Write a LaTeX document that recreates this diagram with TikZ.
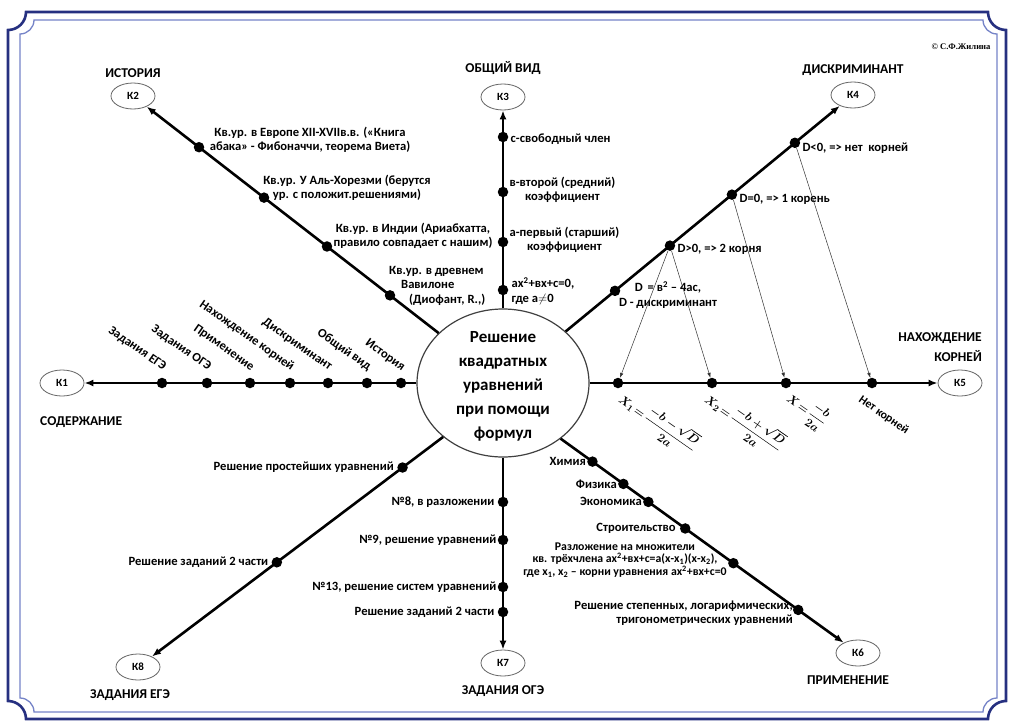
\documentclass[tikz,border=0pt]{standalone}
\usepackage{amsmath}
\usepackage{fontspec}
\setmainfont{Carlito}
\newfontfamily\copyfont{Liberation Serif}
\usetikzlibrary{shapes.geometric,arrows.meta,positioning,calc}

\definecolor{framenavy}{RGB}{38,48,128}
\definecolor{framelight}{RGB}{118,132,200}

\tikzset{
  kbox/.style={ellipse, draw=black!60, line width=0.8pt, minimum width=44pt, minimum height=26pt,
    inner sep=0pt, font=\fontsize{11}{11}\selectfont\bfseries},
  bullet/.style={circle, fill=black, inner sep=0pt, minimum size=10.5pt},
  lbl/.style={font=\fontsize{12.6}{14.5}\selectfont\bfseries, inner sep=1pt},
  smalllbl/.style={font=\fontsize{11.8}{12.5}\selectfont\bfseries, inner sep=1pt},
  head/.style={font=\fontsize{13.5}{20}\selectfont\bfseries, inner sep=0pt},
  branch/.style={line width=2.6pt, -{Latex[length=9pt,width=7pt]}},
  hint/.style={line width=0.5pt, draw=black!80, -{Latex[length=5pt,width=3.5pt]}},
  rootf/.style={font=\fontsize{13}{15}\selectfont\boldmath, rotate=-35, anchor=west, inner sep=0pt},
}

\begin{document}
\begin{tikzpicture}[x=1pt, y=-1pt]
    \fill[white] (0,0) rectangle (1009,723);
    \useasboundingbox (0,0) rectangle (1009,723);
    \draw[framenavy, line width=2.6pt] (26,12) -- (988,12) arc[start angle=180, end angle=270, radius=18pt]
      -- (1006,701) arc[start angle=90, end angle=180, radius=18pt]
      -- (26,719) arc[start angle=0, end angle=90, radius=18pt]
      -- (8,30) arc[start angle=-90, end angle=0, radius=18pt] -- cycle;
    \draw[framelight, line width=1.3pt] (34,20) -- (983,20) arc[start angle=180, end angle=270, radius=14pt]
      -- (997,698) arc[start angle=90, end angle=180, radius=14pt]
      -- (34,712) arc[start angle=0, end angle=90, radius=14pt]
      -- (20,34) arc[start angle=-90, end angle=0, radius=14pt] -- cycle;

    \node[font={\copyfont\fontsize{8.6}{10}\selectfont\bfseries}, anchor=east] (copyr) at (994,47) {© С.Ф.Жилина};

    \node[ellipse, draw=black!75, line width=1.2pt, minimum width=172pt, minimum height=148pt] (ctr) at (503,383) {};
    \node[font=\fontsize{17}{24}\selectfont\bfseries, align=center] (ctrtext) at (503,386)
      {Решение\\квадратных\\уравнений\\при помощи\\формул};

    \node[kbox] (K1) at (62,383) {К1};
    \node[kbox] (K2) at (133,96) {К2};
    \node[kbox] (K3) at (503,97) {К3};
    \node[kbox] (K4) at (853,95) {К4};
    \node[kbox] (K5) at (960,383) {К5};
    \node[kbox] (K6) at (858,653) {К6};
    \node[kbox] (K7) at (503,663) {К7};
    \node[kbox] (K8) at (138,667) {К8};

    \node[head, anchor=west] (tK1) at (40,422) {СОДЕРЖАНИЕ};
    \node[head, above=5pt of K2] (tK2) {ИСТОРИЯ};
    \node[head, above=9pt of K3] (tK3) {ОБЩИЙ ВИД};
    \node[head, above=6pt of K4] (tK4) {ДИСКРИМИНАНТ};
    \node[head, align=right, anchor=east] (tK5) at (982,347) {НАХОЖДЕНИЕ\\КОРНЕЙ};
    \node[head, below=9pt of K6, xshift=-10pt] (tK6) {ПРИМЕНЕНИЕ};
    \node[head, below=9pt of K7] (tK7) {ЗАДАНИЯ ОГЭ};
    \node[head, below=9pt of K8, xshift=-8pt] (tK8) {ЗАДАНИЯ ЕГЭ};

    \draw[branch] (ctr) -- (K1);
    \draw[branch] (ctr) -- (K2);
    \draw[branch] (ctr) -- (K3);
    \draw[branch] (ctr) -- (K4);
    \draw[branch] (ctr) -- (K5);
    \draw[branch] (ctr.-44) -- (K6);
    \draw[branch] (ctr) -- (K7);
    \draw[branch] (ctr.222) -- (K8);

    \node[bullet] (d1a) at (401,383) {};
    \node[bullet] (d1b) at (367,383) {};
    \node[bullet] (d1c) at (328,383) {};
    \node[bullet] (d1d) at (290,383) {};
    \node[bullet] (d1e) at (250,383) {};
    \node[bullet] (d1f) at (207,383) {};
    \node[bullet] (d1g) at (162,383) {};
    \node[lbl, rotate=-35, anchor=south east] (l1a) at ([yshift=9pt]d1a.center) {История};
    \node[lbl, rotate=-35, anchor=south east] (l1b) at ([yshift=9pt]d1b.center) {Общий вид};
    \node[lbl, rotate=-35, anchor=south east] (l1c) at ([yshift=9pt]d1c.center) {Дискриминант};
    \node[lbl, rotate=-35, anchor=south east] (l1d) at ([yshift=9pt]d1d.center) {Нахождение корней};
    \node[lbl, rotate=-35, anchor=south east] (l1e) at ([yshift=9pt]d1e.center) {Применение};
    \node[lbl, rotate=-35, anchor=south east] (l1f) at ([yshift=9pt]d1f.center) {Задания ОГЭ};
    \node[lbl, rotate=-35, anchor=south east] (l1g) at ([yshift=9pt]d1g.center) {Задания ЕГЭ};

    \node[bullet] (d2a) at ($(ctr)!0.8216!(K2)$) {};
    \node[bullet] (d2b) at ($(ctr)!0.6459!(K2)$) {};
    \node[bullet] (d2c) at ($(ctr)!0.4757!(K2)$) {};
    \node[bullet] (d2d) at ($(ctr)!0.3054!(K2)$) {};
    \node[lbl, align=center] (l2a) at (310,140) {Кв.ур. в Европе XII-XVIIв.в. («Книга\\абака» - Фибоначчи, теорема Виета)};
    \node[lbl, align=center] (l2b) at (347,188) {Кв.ур. У Аль-Хорезми (берутся\\ур. с положит.решениями)};
    \node[lbl, align=center] (l2c) at (413,236) {Кв.ур. в Индии (Ариабхатта,\\правило совпадает с нашим)};
    \node[lbl, align=left, anchor=north west] (l2d) at (388,265)
      {Кв.ур. в древнем\\\hspace*{12pt}Вавилоне\\\hspace*{20pt}(Диофант, R.,)};

    \node[bullet] (d3a) at (503,137) {};
    \node[bullet] (d3b) at (503,192) {};
    \node[bullet] (d3c) at (503,242) {};
    \node[bullet] (d3d) at (503,290) {};
    \node[lbl, right=1pt of d3a, yshift=-2pt] (l3a) {с-свободный член};
    \node[lbl, align=center, right=0pt of d3b, yshift=2pt] (l3b) {в-второй (средний)\\коэффициент};
    \node[lbl, align=center, right=0pt of d3c, yshift=2pt] (l3c) {а-первый (старший)\\коэффициент};
    \node[lbl, align=left, right=2pt of d3d, yshift=-1pt] (l3d) {ах\textsuperscript{2}+вх+с=0,\\где а$\neq$0};

    \node[bullet] (d4a) at ($(ctr)!0.32!(K4)$) {};
    \node[bullet] (d4b) at ($(ctr)!0.477!(K4)$) {};
    \node[bullet] (d4c) at ($(ctr)!0.654!(K4)$) {};
    \node[bullet] (d4d) at ($(ctr)!0.834!(K4)$) {};
    \node[lbl, align=center] (l4a) at (668,295) {D \,= в\textsuperscript{2} – 4ac,\\D - дискриминант};
    \node[lbl, right=1pt of d4b, yshift=-4pt] (l4b) {D>0, => 2 корня};
    \node[lbl, right=1pt of d4c, yshift=-5pt] (l4c) {D=0, => 1 корень};
    \node[lbl, right=1pt of d4d, yshift=-5pt] (l4d) {D<0, => нет \ корней};

    \node[bullet] (d5a) at (618,383) {};
    \node[bullet] (d5b) at (712,383) {};
    \node[bullet] (d5c) at (786,383) {};
    \node[bullet] (d5d) at (872,383) {};
    \node[rootf] (l5a) at (621,397) {$X_1\!=\!\dfrac{-b-\sqrt{D}}{2a}$};
    \node[rootf] (l5b) at (707,397) {$X_2\!=\!\dfrac{-b+\sqrt{D}}{2a}$};
    \node[rootf] (l5c) at (788,397) {$X\!=\!\dfrac{-b}{2a}$};
    \node[smalllbl, rotate=-35, anchor=west] (l5d) at (859,398) {Нет корней};

    \draw[hint] (d4b) -- (d5a);
    \draw[hint] (d4b) -- (d5b);
    \draw[hint] (d4c) -- (d5c);
    \draw[hint] (d4d) -- (d5d);

    \node[bullet] (d6a) at ($(ctr.-44)!0.107!(K6)$) {};
    \node[bullet] (d6b) at ($(ctr.-44)!0.211!(K6)$) {};
    \node[bullet] (d6c) at ($(ctr.-44)!0.295!(K6)$) {};
    \node[bullet] (d6d) at ($(ctr.-44)!0.419!(K6)$) {};
    \node[bullet] (d6e) at ($(ctr.-44)!0.581!(K6)$) {};
    \node[bullet] (d6f) at ($(ctr.-44)!0.799!(K6)$) {};
    \node[lbl, left=0pt of d6a] (l6a) {Химия};
    \node[lbl, left=0pt of d6b] (l6b) {Физика};
    \node[lbl, left=0pt of d6c] (l6c) {Экономика};
    \node[lbl, left=3pt of d6d] (l6d) {Строительство};
    \node[smalllbl, align=center] (l6e) at (625,560)
      {Разложение на множители\\кв. трёхчлена ах\textsuperscript{2}+вх+с=а(х-х\textsubscript{1})(х-х\textsubscript{2}),\\где х\textsubscript{1}, х\textsubscript{2} – корни уравнения ах\textsuperscript{2}+вх+с=0};
    \node[lbl, align=right, anchor=east] (l6f) at (794,613) {Решение степенных, логарифмических,\\тригонометрических уравнений};

    \node[bullet] (d7a) at (503,502) {};
    \node[bullet] (d7b) at (503,540) {};
    \node[bullet] (d7c) at (503,587) {};
    \node[bullet] (d7d) at (503,612) {};
    \node[lbl, left=2pt of d7a] (l7a) {№8, в разложении};
    \node[lbl, left=0pt of d7b] (l7b) {№9, решение уравнений};
    \node[lbl, left=0pt of d7c] (l7c) {№13, решение систем уравнений};
    \node[lbl, left=2pt of d7d] (l7d) {Решение заданий 2 части};

    \node[bullet] (d8a) at ($(ctr.222)!0.133!(K8)$) {};
    \node[bullet] (d8b) at ($(ctr.222)!0.545!(K8)$) {};
    \node[lbl, left=2pt of d8a] (l8a) {Решение простейших уравнений};
    \node[lbl, left=2pt of d8b] (l8b) {Решение заданий 2 части};
\end{tikzpicture}
\end{document}
